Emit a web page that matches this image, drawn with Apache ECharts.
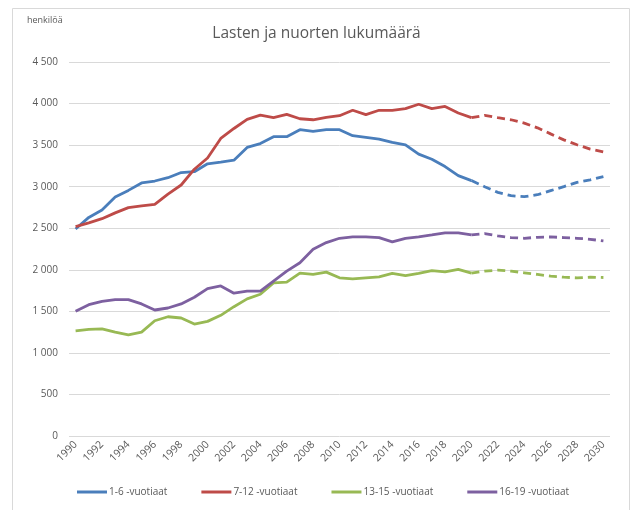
<!DOCTYPE html>
<html>
<head>
<meta charset="utf-8">
<script src="https://cdn.jsdelivr.net/npm/echarts@6/dist/echarts.min.js"></script>
<style>
  html, body { margin: 0; padding: 0; background: #fff; }
  #chart { width: 633px; height: 510px; }
</style>
</head>
<body>
<div id="chart"></div>
<script>
// vuodet 1990-2030
const years = [];
for (let y = 1990; y <= 2030; y++) years.push(String(y));

// toteutunut 1990-2020, ennuste 2020-2030
const age1_6 = [2490, 2630, 2720, 2875, 2955, 3045, 3068, 3108, 3170, 3180,
  3275, 3295, 3318, 3472, 3518, 3601, 3601, 3686, 3666, 3686,
  3686, 3613, 3593, 3573, 3532, 3504, 3391, 3330, 3242, 3133,
  3073, 3000, 2931, 2891, 2879, 2903, 2952, 3000, 3052, 3081, 3121];
const age7_12 = [2520, 2565, 2615, 2685, 2748, 2768, 2788, 2910, 3020, 3210,
  3345, 3580, 3700, 3810, 3860, 3830, 3870, 3817, 3805, 3835,
  3854, 3919, 3866, 3919, 3919, 3939, 3992, 3939, 3965, 3887,
  3830, 3858, 3830, 3805, 3765, 3708, 3635, 3563, 3504, 3452, 3419];
const age13_15 = [1266, 1282, 1290, 1250, 1218, 1250, 1387, 1435, 1420, 1347,
  1379, 1452, 1556, 1650, 1706, 1843, 1851, 1960, 1944, 1972,
  1903, 1891, 1903, 1915, 1956, 1931, 1956, 1990, 1975, 2004,
  1960, 1984, 1996, 1984, 1964, 1944, 1923, 1911, 1903, 1911, 1907];
const age16_19 = [1500, 1580, 1620, 1641, 1641, 1589, 1516, 1540, 1589, 1669,
  1774, 1806, 1718, 1742, 1742, 1863, 1984, 2085, 2246, 2327,
  2379, 2395, 2395, 2387, 2335, 2379, 2395, 2419, 2444, 2444,
  2419, 2435, 2407, 2387, 2379, 2391, 2395, 2387, 2379, 2367, 2347];

const names = ['1-6 -vuotiaat', '7-12 -vuotiaat', '13-15 -vuotiaat', '16-19 -vuotiaat'];
const colors = ['#4a7ebb', '#be4b48', '#98b954', '#7d60a0'];
const lastActual = '2020';

const cut = years.indexOf(lastActual);
function solidPart(arr) { return arr.map((v, i) => i <= cut ? v : null); }
function dashedPart(arr) { return arr.map((v, i) => i >= cut ? v : null); }

const chart = echarts.init(document.getElementById('chart'));
const txt = '#595959';
const font = '"Open Sans", "Liberation Sans", sans-serif';

let series = [];
[age1_6, age7_12, age13_15, age16_19].forEach(function (arr, k) {
  series.push({
    name: names[k], type: 'line', data: solidPart(arr),
    symbol: 'none', smooth: false, itemStyle: { color: colors[k] },
    lineStyle: { width: 2.8, color: colors[k] }
  });
  series.push({
    name: names[k], type: 'line', data: dashedPart(arr),
    symbol: 'none', smooth: false, itemStyle: { color: colors[k] },
    lineStyle: { width: 2.8, color: colors[k], type: [8, 5] }
  });
});

let option = {
  animation: false,
  textStyle: { fontFamily: font },
  title: {
    text: 'Lasten ja nuorten lukumäärä',
    left: 'center', top: 21,
    textStyle: { color: txt, fontSize: 15.5, fontWeight: 'normal', fontFamily: font }
  },
  graphic: [
    { type: 'text', left: 27, top: 16,
      style: { text: 'henkilöä', fill: txt, fontSize: 9, fontFamily: font } },
    { type: 'polyline', shape: { points: [[12.5, 512], [12.5, 8.5], [629.5, 8.5], [629.5, 512]] },
      style: { stroke: '#d9d9d9', lineWidth: 1, fill: null } }
  ],
  legend: {
    bottom: 8, left: 72,
    icon: 'rect', itemWidth: 30, itemHeight: 3, itemGap: 34,
    textStyle: { color: txt, fontSize: 10, fontFamily: font, padding: [0, 0, 0, -3] },
    data: names
  },
  grid: { left: 69, right: 23, top: 62, bottom: 74 },
  xAxis: {
    type: 'category', data: years, boundaryGap: true,
    axisLine: { show: false }, axisTick: { show: false },
    axisLabel: { interval: 1, rotate: 45, color: txt, fontSize: 10.5, margin: 7 }
  },
  yAxis: {
    type: 'value', min: 0, max: 4500, interval: 500,
    axisLabel: {
      color: txt, fontSize: 10, margin: 11,
      formatter: v => String(v).replace(/\B(?=(\d{3})+(?!\d))/g, ' ')
    },
    splitLine: { lineStyle: { color: '#d9d9d9', width: 1 } }
  },
  series: series
};

chart.setOption(option);
</script>
</body>
</html>
